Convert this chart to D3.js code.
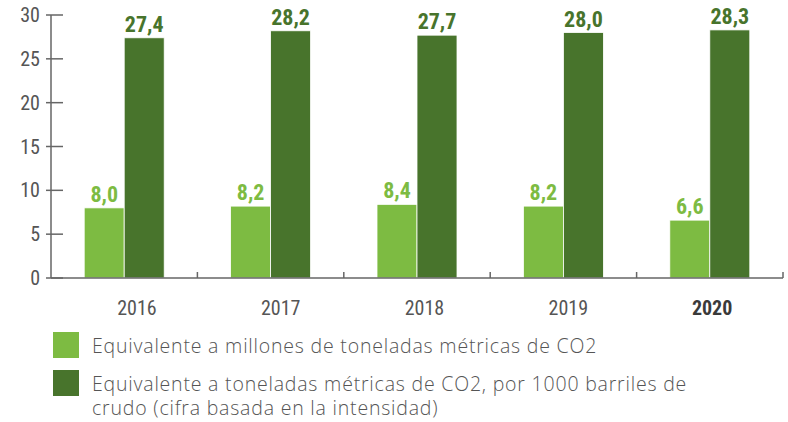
<!DOCTYPE html>
<html>
<head>
<meta charset="utf-8">
<script src="https://cdn.jsdelivr.net/npm/d3@7"></script>
<style>
  body { margin: 0; background: #fff; }
  .cond { font-family: "Roboto Condensed", "Liberation Sans Narrow", "DejaVu Sans Condensed", sans-serif; }
  .legend text { font-family: "Open Sans", Roboto, sans-serif; font-weight: 300; letter-spacing: 0.8px; }
</style>
</head>
<body>
<script>
// datos
var anos = ["2016", "2017", "2018", "2019", "2020"];
var millones = [8.0, 8.2, 8.4, 8.2, 6.6];
var intensidad = [27.4, 28.2, 27.7, 28.0, 28.3];
var yTicks = [0, 5, 10, 15, 20, 25, 30];
var leyenda = [
  ["Equivalente a millones de toneladas métricas de CO2"],
  ["Equivalente a toneladas métricas de CO2, por 1000 barriles de", "crudo (cifra basada en la intensidad)"]
];

var verdeClaro = "#7dbb42", verdeOscuro = "#48742c";
var ejeColor = "#666", textoColor = "#555";

var width = 788, height = 422;
var svg = d3.select("body").append("svg")
    .attr("width", width)
    .attr("height", height);

var x = d3.scaleBand().domain(anos).range([51, 783]);
var xl = d3.scaleBand().domain(anos).range([65, 784]); // etiquetas de años
var y = d3.scaleLinear().domain([0, 30]).range([278, 15]);

var barW = 40;

// eje y
var gy = svg.append("g");
gy.append("line")
    .attr("x1", 51).attr("x2", 51)
    .attr("y1", y(30)).attr("y2", y(0))
    .attr("stroke", ejeColor).attr("stroke-width", 1.5);
gy.selectAll(".tick").data(yTicks).enter().append("line")
    .attr("x1", 46).attr("x2", 63)
    .attr("y1", function(d) { return y(d); })
    .attr("y2", function(d) { return y(d); })
    .attr("stroke", ejeColor).attr("stroke-width", 1.5);
gy.selectAll("text").data(yTicks).enter().append("text")
    .attr("class", "cond")
    .attr("x", 40)
    .attr("y", function(d) { return y(d); })
    .attr("dy", "0.35em")
    .attr("text-anchor", "end")
    .attr("font-size", "20px")
    .attr("fill", textoColor)
    .text(function(d) { return d; });

// barras
var g = svg.append("g");
g.selectAll(".claro").data(anos).enter().append("rect")
    .attr("x", function(d) { return x(d) + x.bandwidth() / 2 - barW; })
    .attr("width", barW)
    .attr("y", function(d, i) { return y(millones[i]); })
    .attr("height", function(d, i) { return y(0) - y(millones[i]); })
    .attr("fill", verdeClaro)
    .attr("stroke", "#fff").attr("stroke-width", 0.8);
g.selectAll(".oscuro").data(anos).enter().append("rect")
    .attr("x", function(d) { return x(d) + x.bandwidth() / 2; })
    .attr("width", barW)
    .attr("y", function(d, i) { return y(intensidad[i]); })
    .attr("height", function(d, i) { return y(0) - y(intensidad[i]); })
    .attr("fill", verdeOscuro)
    .attr("stroke", "#fff").attr("stroke-width", 0.8);

var fmt = function(v) { return v.toFixed(1).replace(".", ","); };
g.selectAll(".lc").data(anos).enter().append("text")
    .attr("class", "cond")
    .attr("x", function(d) { return x(d) + x.bandwidth() / 2 - barW / 2; })
    .attr("y", function(d, i) { return y(millones[i]) - 6; })
    .attr("text-anchor", "middle")
    .attr("font-size", "22px").attr("font-weight", "bold")
    .attr("fill", verdeClaro)
    .text(function(d, i) { return fmt(millones[i]); });
g.selectAll(".lo").data(anos).enter().append("text")
    .attr("class", "cond")
    .attr("x", function(d) { return x(d) + x.bandwidth() / 2 + barW / 2; })
    .attr("y", function(d, i) { return y(intensidad[i]) - 6; })
    .attr("text-anchor", "middle")
    .attr("font-size", "22px").attr("font-weight", "bold")
    .attr("fill", verdeOscuro)
    .text(function(d, i) { return fmt(intensidad[i]); });

// eje x
var gx = svg.append("g");
gx.append("line")
    .attr("x1", 51).attr("x2", 783)
    .attr("y1", y(0)).attr("y2", y(0))
    .attr("stroke", ejeColor).attr("stroke-width", 1.5);
gx.selectAll(".t").data(anos).enter().append("line")
    .attr("x1", function(d) { return x(d) + x.step(); })
    .attr("x2", function(d) { return x(d) + x.step(); })
    .attr("y1", y(0) - 6).attr("y2", y(0))
    .attr("stroke", ejeColor).attr("stroke-width", 1.5);
gx.selectAll("text").data(anos).enter().append("text")
    .attr("class", "cond")
    .attr("x", function(d) { return xl(d) + xl.bandwidth() / 2; })
    .attr("y", 315)
    .attr("text-anchor", "middle")
    .attr("font-size", "20px")
    .attr("font-weight", function(d) { return d === "2020" ? "bold" : "normal"; })
    .attr("fill", function(d) { return d === "2020" ? "#3a3a3a" : textoColor; })
    .text(function(d) { return d; });

// leyenda
var lg = svg.append("g").attr("class", "legend");
var colores = [verdeClaro, verdeOscuro];
var filas = [332, 370];
leyenda.forEach(function(lineas, i) {
  lg.append("rect")
      .attr("x", 53).attr("y", filas[i])
      .attr("width", 26).attr("height", 26)
      .attr("fill", colores[i]);
  lineas.forEach(function(t, j) {
    lg.append("text")
        .attr("x", 92)
        .attr("y", filas[i] + 20.5 + j * 24)
        .attr("font-size", "19.5px")
        .attr("fill", textoColor)
        .text(t);
  });
});
</script>
</body>
</html>
